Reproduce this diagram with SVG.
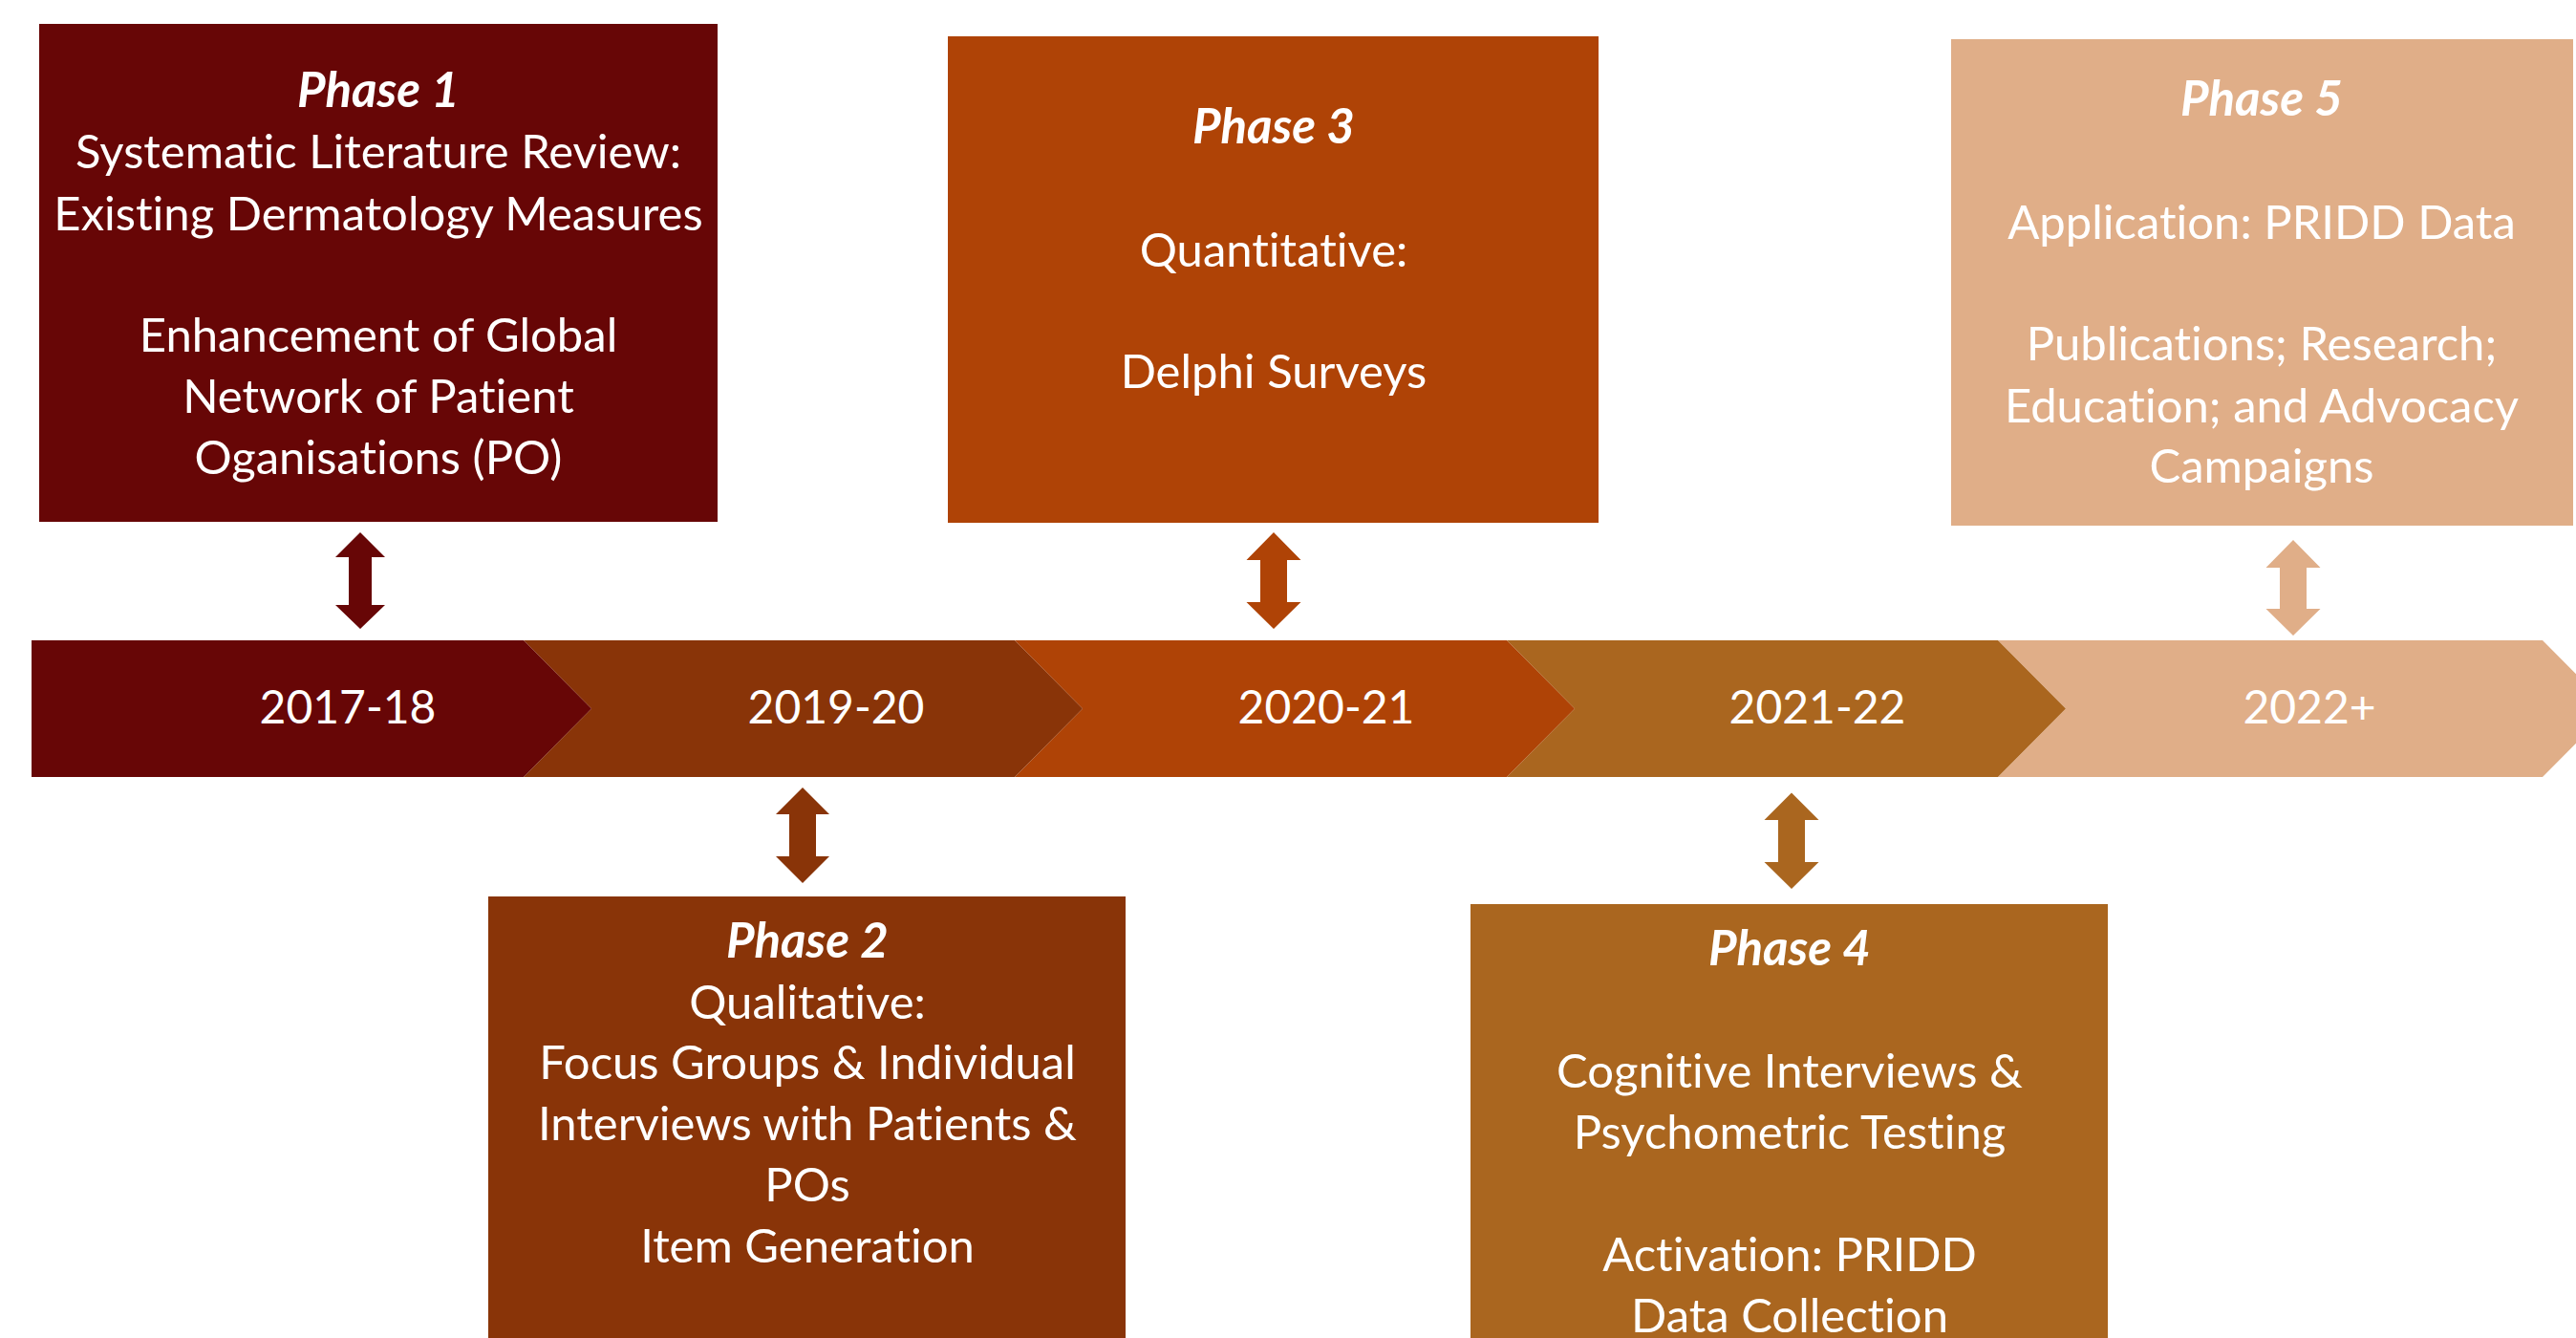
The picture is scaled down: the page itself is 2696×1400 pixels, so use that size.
<svg xmlns="http://www.w3.org/2000/svg" width="2696" height="1400" viewBox="0 0 2696 1400">
<style>
.t{font-family:Lato,"Liberation Sans",sans-serif;font-size:49px;fill:#fff;text-anchor:middle;font-variant-ligatures:none}
.y{font-size:48px}
.h{font-weight:bold;font-style:italic;font-size:51px}
.c1{fill:#670606}.c2{fill:#893408}.c3{fill:#AF4306}.c4{fill:#AA661F}.c5{fill:#E0AE88}
</style>
<rect width="2696" height="1400" fill="#fff"/>
<g id="timeline">
<path class="c5" d="M2091,670 L2661,670 L2732,741.5 L2661,813 L2091,813 L2162,741.5 Z"/>
<path class="c4" d="M1577,670 L2091,670 L2162,741.5 L2091,813 L1577,813 L1648,741.5 Z"/>
<path class="c3" d="M1062,670 L1577,670 L1648,741.5 L1577,813 L1062,813 L1133,741.5 Z"/>
<path class="c2" d="M548,670 L1062,670 L1133,741.5 L1062,813 L548,813 L619,741.5 Z"/>
<path class="c1" d="M33,670 L548,670 L619,741.5 L548,813 L33,813 Z"/>
<text class="t y" x="364" y="757">2017-18</text>
<text class="t y" x="875" y="757">2019-20</text>
<text class="t y" x="1388" y="757">2020-21</text>
<text class="t y" x="1902" y="757">2021-22</text>
<text class="t y" x="2417" y="757">2022+</text>
</g>
<g id="phase1">
<rect class="c1" x="41" y="25" width="710" height="521"/>
<text class="t h" x="396" y="112">Phase 1</text>
<text class="t" x="396" y="176">Systematic Literature Review:</text>
<text class="t" x="396" y="241">Existing Dermatology Measures</text>
<text class="t" x="396" y="368">Enhancement of Global</text>
<text class="t" x="396" y="432">Network of Patient</text>
<text class="t" x="396" y="496">Oganisations (PO)</text>
</g>
<g id="phase2">
<rect class="c2" x="511" y="938" width="667" height="470"/>
<text class="t h" x="845" y="1002">Phase 2</text>
<text class="t" x="845" y="1066">Qualitative:</text>
<text class="t" x="845" y="1129">Focus Groups &amp; Individual</text>
<text class="t" x="845" y="1193">Interviews with Patients &amp;</text>
<text class="t" x="845" y="1257">POs</text>
<text class="t" x="845" y="1321">Item Generation</text>
</g>
<g id="phase3">
<rect class="c3" x="992" y="38" width="681" height="509"/>
<text class="t h" x="1333" y="150">Phase 3</text>
<text class="t" x="1333" y="279">Quantitative:</text>
<text class="t" x="1333" y="406">Delphi Surveys</text>
</g>
<g id="phase4">
<rect class="c4" x="1539" y="946" width="667" height="470"/>
<text class="t h" x="1873" y="1010">Phase 4</text>
<text class="t" x="1873" y="1138">Cognitive Interviews &amp;</text>
<text class="t" x="1873" y="1202">Psychometric Testing</text>
<text class="t" x="1873" y="1330">Activation: PRIDD</text>
<text class="t" x="1873" y="1394">Data Collection</text>
</g>
<g id="phase5">
<rect class="c5" x="2042" y="41" width="651" height="509"/>
<text class="t h" x="2367" y="121">Phase 5</text>
<text class="t" x="2367" y="250">Application: PRIDD Data</text>
<text class="t" x="2367" y="377">Publications; Research;</text>
<text class="t" x="2367" y="442">Education; and Advocacy</text>
<text class="t" x="2367" y="505">Campaigns</text>
</g>
<g id="connectors">
<path class="c1" d="M377,557 L403,583 L389,583 L389,633 L403,633 L377,658 L351,633 L365,633 L365,583 L351,583 Z"/>
<path class="c2" d="M840,824 L868,852 L854,852 L854,896 L868,896 L840,924 L812,896 L826,896 L826,852 L812,852 Z"/>
<path class="c3" d="M1333,557 L1361.5,586 L1347,586 L1347,630 L1361.5,630 L1333,658 L1304.5,630 L1319,630 L1319,586 L1304.5,586 Z"/>
<path class="c4" d="M1875,829.5 L1903.5,858 L1889,858 L1889,902 L1903.5,902 L1875,930 L1846.5,902 L1861,902 L1861,858 L1846.5,858 Z"/>
<path class="c5" d="M2400,565 L2428.5,594 L2414,594 L2414,637 L2428.5,637 L2400,665 L2371.5,637 L2386,637 L2386,594 L2371.5,594 Z"/>
</g>
</svg>
